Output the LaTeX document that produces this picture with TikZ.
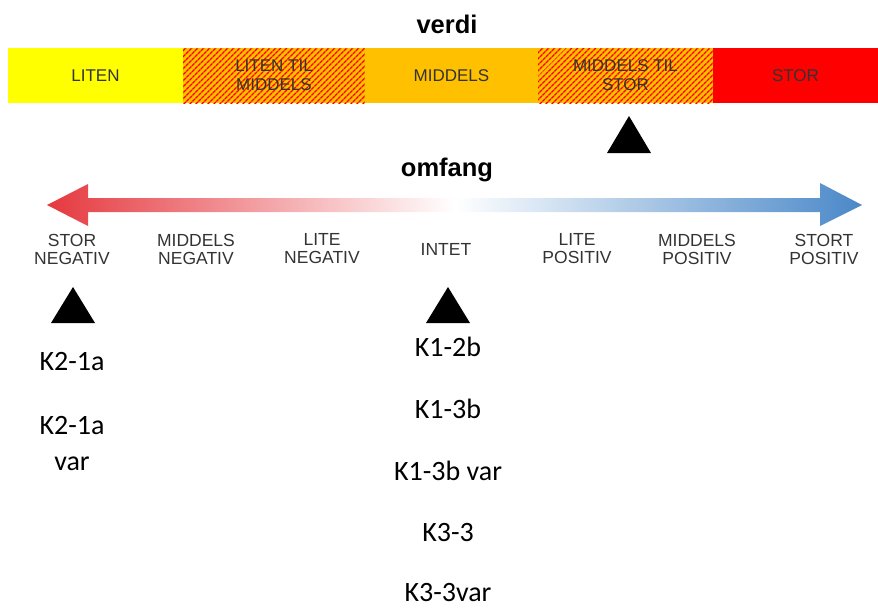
\documentclass[tikz,border=0pt]{standalone}
\usepackage{fontspec}
\setmainfont{Liberation Sans}
\newfontfamily\calfont{Carlito}
\usetikzlibrary{patterns.meta}
\definecolor{gul}{HTML}{FFFF00}
\definecolor{oransje}{HTML}{FFC000}
\definecolor{rod}{HTML}{FF0000}
\definecolor{pilrod}{HTML}{E5393F}
\definecolor{pilbla}{HTML}{4A88C8}
\definecolor{tekst}{HTML}{333333}
\pgfdeclarehorizontalshading{omfangfarge}{100bp}{color(0bp)=(pilrod); color(25bp)=(pilrod); color(50bp)=(white); color(75bp)=(pilbla); color(100bp)=(pilbla)}
\begin{document}
\begin{tikzpicture}[x=1pt,y=-1pt,line join=round,
		felt/.style={minimum height=55pt,inner sep=0pt,text=tekst,align=center,font=\fontsize{17}{19}\selectfont},
		skravert/.style={preaction={fill=oransje},pattern={Lines[angle=45,distance=4pt,line width=1.5pt]},pattern color=rod},
		tittel/.style={font=\bfseries\fontsize{25.5}{28}\selectfont},
		niva/.style={text=tekst,align=center,font=\fontsize{17.5}{18}\selectfont},
		kode/.style={font=\calfont\fontsize{28}{36}\selectfont,align=center}]
	\useasboundingbox (0,0) rectangle (878,608);
	% verdi
	\node[tittel] (verdi) at (447,24) {verdi};
	\node[felt,fill=gul,minimum width=175pt] (liten) at (95.5,75.5) {LITEN};
	\node[felt,skravert,minimum width=182pt] (litenmid) at (274,75.5) {LITEN TIL\\MIDDELS};
	\node[felt,fill=oransje,minimum width=173pt] (middels) at (451.5,75.5) {MIDDELS};
	\node[felt,skravert,minimum width=175pt] (midstor) at (625.5,75.5) {MIDDELS TIL\\STOR};
	\node[felt,fill=rod,minimum width=165pt] (stor) at (795.5,75.5) {STOR};
	\fill (629,116) -- ++(-22,37) -- ++(44,0) -- cycle;
	% omfang
	\node[tittel] (omfang) at (447,170) {omfang};
	\shade[shading=omfangfarge] (47,205) -- (88,184) -- (88,198) -- (820,198) -- (820,183)
		-- (862,205) -- (820,226) -- (820,212) -- (88,212) -- (88,226) -- cycle;
	\foreach \x/\tekst [count=\i] in {72/STOR\\NEGATIV,196/MIDDELS\\NEGATIV,322/LITE\\NEGATIV,
		446/INTET,577/LITE\\POSITIV,697/MIDDELS\\POSITIV,824/STORT\\POSITIV}
		\node[niva] (niva\i) at (\x,249) {\tekst};
	\fill (73,287) -- ++(-22,36) -- ++(44,0) -- cycle;
	\fill (448,287) -- ++(-22,36) -- ++(44,0) -- cycle;
	% koder
	\node[kode] (k21a) at (72,362) {K2-1a};
	\node[kode] (k21avar) at (72,444) {K2-1a\\var};
	\foreach \y/\tekst [count=\i] in {347/K1-2b,409/K1-3b,471/K1-3b var,533/K3-3,593/K3-3var}
		\node[kode] (kode\i) at (448,\y) {\tekst};
\end{tikzpicture}
\end{document}
